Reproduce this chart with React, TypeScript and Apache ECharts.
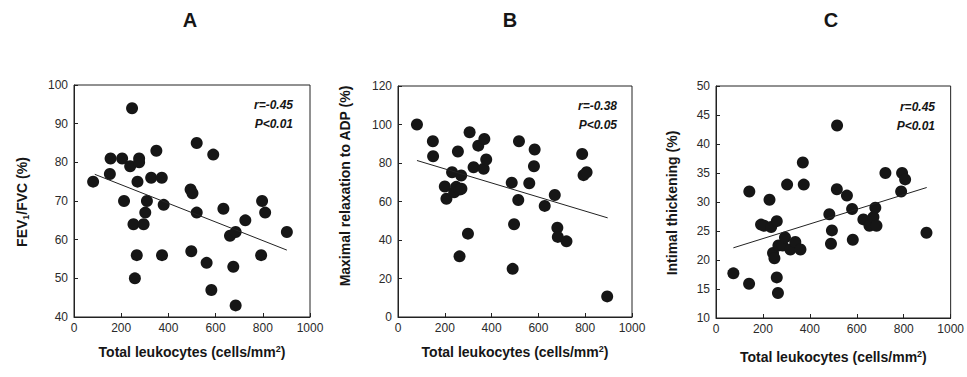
import React, { useEffect, useRef } from "react";
import * as echarts from "echarts";

// Panel A: FEV1/FVC vs total leukocytes
const leukocytesA = [81, 155, 152, 204, 212, 238, 246, 252, 258, 266, 269, 276, 276, 295, 302, 309, 327, 349, 372, 373, 380, 494, 502, 497, 520, 520, 562, 582, 590, 633, 661, 675, 685, 685, 726, 793, 797, 810, 902];
const fevRatio = [75, 81, 77, 81, 70, 79, 94, 64, 50, 56, 75, 81, 80, 64, 67, 70, 76, 83, 76, 56, 69, 73, 72, 57, 85, 67, 54, 47, 82, 68, 61, 53, 62, 43, 65, 56, 70, 67, 62];
const trendAx = [88, 902];
const trendAy = [76.9, 57.3];

// Panel B: maximal relaxation to ADP vs total leukocytes
const leukocytesB = [81, 149, 150, 200, 207, 231, 240, 249, 256, 264, 270, 271, 263, 299, 306, 323, 343, 369, 366, 377, 486, 496, 490, 514, 517, 561, 584, 581, 627, 670, 681, 683, 720, 787, 793, 806, 894];
const relaxationADP = [100, 91.3, 83.5, 67.8, 61.4, 75.2, 64.8, 67.6, 86, 66.2, 73.5, 66.6, 31.5, 43.3, 96, 77.8, 89, 92.5, 77, 81.8, 69.8, 48.2, 25, 60.8, 91.3, 69.5, 87, 78.3, 57.7, 63.4, 46.4, 41.6, 39.3, 84.7, 73.7, 75.2, 10.7];
const trendBx = [81, 896];
const trendBy = [81.3, 51.5];

// Panel C: intimal thickening vs total leukocytes
const leukocytesC = [74, 142, 141, 192, 205, 228, 235, 259, 243, 249, 259, 264, 266, 284, 294, 303, 317, 338, 360, 370, 374, 483, 494, 490, 515, 516, 558, 580, 583, 628, 654, 671, 679, 684, 722, 793, 789, 806, 897];
const intimalThickening = [17.7, 31.8, 15.9, 26.1, 25.9, 30.4, 25.7, 26.7, 21.2, 20.3, 17, 14.3, 22.5, 22.5, 23.9, 33, 21.8, 23.1, 21.8, 36.8, 33, 27.9, 25.1, 22.8, 32.2, 43.2, 31.1, 28.8, 23.5, 27, 25.9, 27.4, 29, 25.9, 35, 35, 31.8, 33.9, 24.7];
const trendCx = [74, 898];
const trendCy = [22.1, 32.5];

const panelTitles = ["A", "B", "C"];
const statsR = ["r=-0.45", "r=-0.38", "r=0.45"];
const statsP = ["P<0.01", "P<0.05", "P<0.01"];
const yRanges = [
  { min: 40, max: 100, interval: 10 },
  { min: 0, max: 120, interval: 20 },
  { min: 10, max: 50, interval: 5 },
];

const FONT = "'Liberation Sans', Arial, Helvetica, sans-serif";
const INK = "#161616";

const zip = (xs: number[], ys: number[]) => xs.map((x, i) => [x, ys[i]]);

export default function App() {
  const ref = useRef<HTMLDivElement>(null);
  useEffect(() => {
    if (!ref.current) return;
    const chart = echarts.init(ref.current, undefined, { renderer: "svg" });

    const grids = [
      { left: 74, top: 85, width: 236, height: 232 },
      { left: 398, top: 86, width: 234, height: 231 },
      { left: 716, top: 86, width: 236, height: 232 },
    ];
    const xNameGaps = [27, 27, 31];

    const scatterData = [
      zip(leukocytesA, fevRatio),
      zip(leukocytesB, relaxationADP),
      zip(leukocytesC, intimalThickening),
    ];
    const trendData = [
      zip(trendAx, trendAy),
      zip(trendBx, trendBy),
      zip(trendCx, trendCy),
    ];

    const axisCommon = {
      axisLine: { show: true, lineStyle: { color: "#222", width: 1 } },
      axisTick: { show: true, inside: true, length: 4, lineStyle: { color: "#222" } },
      splitLine: { show: false },
      axisLabel: { color: "#2a2a2a", fontSize: 12, fontFamily: FONT, formatter: (v: number) => String(v) },
    };

    const xAxis = grids.map((_, i) => ({
      ...axisCommon,
      type: "value",
      gridIndex: i,
      min: 0,
      max: 1000,
      interval: 200,
      axisLabel: { ...axisCommon.axisLabel, margin: 5 },
      name: "{n|Total leukocytes (cells/mm}{s|2}{n|)}",
      nameLocation: "middle",
      nameGap: xNameGaps[i],
      nameTextStyle: {
        rich: {
          n: { fontSize: 14, fontWeight: "bold", fontFamily: FONT, color: INK },
          s: { fontSize: 9, fontWeight: "bold", fontFamily: FONT, color: INK, verticalAlign: "top", padding: [0, 0, 7, 0] },
        },
      },
    }));

    const yAxis = grids.map((_, i) => ({
      ...axisCommon,
      type: "value",
      gridIndex: i,
      min: yRanges[i].min,
      max: yRanges[i].max,
      interval: yRanges[i].interval,
      axisLabel: { ...axisCommon.axisLabel, margin: 6 },
    }));

    const series: any[] = [];
    for (let i = 0; i < 3; i++) {
      series.push({
        type: "scatter",
        xAxisIndex: i,
        yAxisIndex: i,
        data: scatterData[i],
        symbol: "circle",
        symbolSize: 12,
        itemStyle: { color: INK, opacity: 1 },
      });
      series.push({
        type: "line",
        xAxisIndex: i,
        yAxisIndex: i,
        data: trendData[i],
        symbol: "none",
        lineStyle: { color: "#222", width: 1 },
      });
    }

    const richY = {
      n: { fontSize: 14, fontWeight: "bold", fontFamily: FONT, fill: INK },
      s: { fontSize: 9, fontWeight: "bold", fontFamily: FONT, fill: INK, verticalAlign: "bottom", padding: [7, 0, 0, 0] },
    };
    const yNames = ["{n|FEV}{s|1}{n|/FVC (%)}", "{n|Maximal relaxation to ADP (%)}", "{n|Intimal thickening (%)}"];
    const yNameX = [22, 345, 672];
    const yNameY = [202, 186, 203];
    const titleX = [190, 510, 831];
    const statRight = [293, 617, 935];
    const statY = [105, 106, 107];

    const graphic: any[] = [];
    for (let i = 0; i < 3; i++) {
      graphic.push({
        type: "text",
        x: titleX[i],
        y: 20,
        style: { text: panelTitles[i], fontSize: 20, fontWeight: "bold", fontFamily: FONT, fill: INK, align: "center", verticalAlign: "middle" },
      });
      graphic.push({
        type: "text",
        x: yNameX[i],
        y: yNameY[i],
        rotation: Math.PI / 2,
        style: { text: yNames[i], rich: richY, fontSize: 14, fontWeight: "bold", fontFamily: FONT, fill: INK, align: "center", verticalAlign: "middle" },
      });
      graphic.push({
        type: "text",
        x: statRight[i],
        y: statY[i],
        style: { text: statsR[i], fontSize: 12, fontWeight: "bold", fontStyle: "italic", fontFamily: FONT, fill: INK, align: "right", verticalAlign: "middle" },
      });
      graphic.push({
        type: "text",
        x: statRight[i],
        y: statY[i] + 19,
        style: { text: statsP[i], fontSize: 12, fontWeight: "bold", fontStyle: "italic", fontFamily: FONT, fill: INK, align: "right", verticalAlign: "middle" },
      });
    }

    chart.setOption({
      animation: false,
      backgroundColor: "#ffffff",
      grid: grids.map((g) => ({ ...g, show: true, borderColor: "#222", borderWidth: 1, backgroundColor: "transparent" })),
      xAxis,
      yAxis,
      series,
      graphic,
    });
    return () => chart.dispose();
  }, []);

  return <div ref={ref} style={{ position: "absolute", left: 0, top: 0, width: 967, height: 377 }} />;
}
